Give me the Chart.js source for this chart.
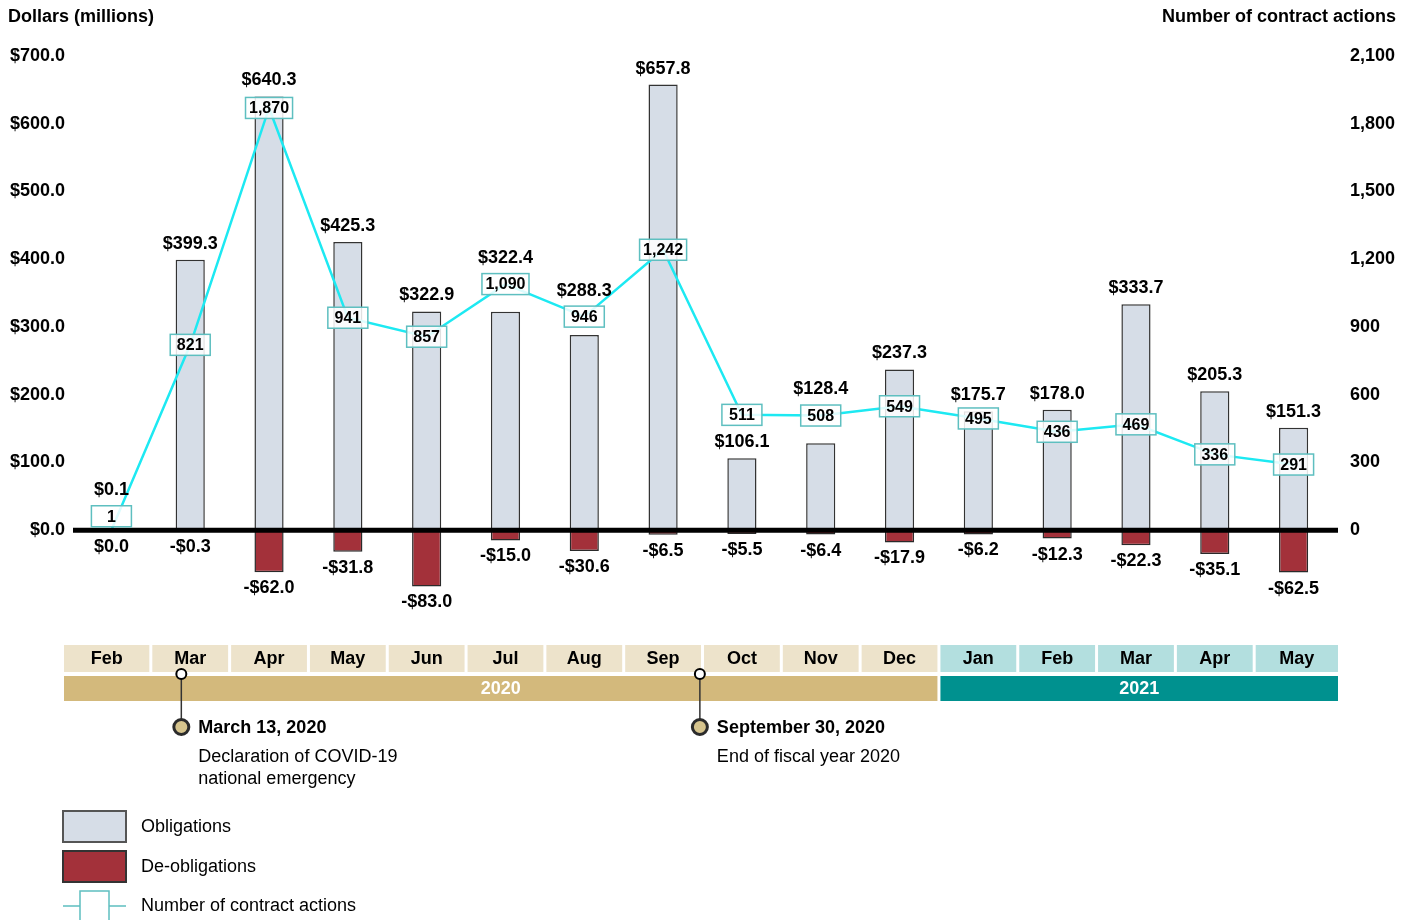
<!DOCTYPE html>
<html>
<head>
<meta charset="utf-8">
<script src="https://cdn.jsdelivr.net/npm/chart.js@4/dist/chart.umd.min.js"></script>
<style>
  html, body { margin: 0; padding: 0; background: #fff; }
  #wrap { width: 1411px; height: 920px; position: relative; }
</style>
</head>
<body>
<div id="wrap"><canvas id="myChart"></canvas></div>
<script>
// months from Feb 2020 to May 2021
const categories = ['Feb', 'Mar', 'Apr', 'May', 'Jun', 'Jul', 'Aug', 'Sep', 'Oct', 'Nov', 'Dec', 'Jan', 'Feb', 'Mar', 'Apr', 'May'];
const yearLabels = ['2020', '2021'];
const yearMonthCounts = [11, 5];
const obligations = [0.1, 399.3, 640.3, 425.3, 322.9, 322.4, 288.3, 657.8, 106.1, 128.4, 237.3, 175.7, 178.0, 333.7, 205.3, 151.3];
const deobligations = [0.0, -0.3, -62.0, -31.8, -83.0, -15.0, -30.6, -6.5, -5.5, -6.4, -17.9, -6.2, -12.3, -22.3, -35.1, -62.5];
const contractActions = [1, 821, 1870, 941, 857, 1090, 946, 1242, 511, 508, 549, 495, 436, 469, 336, 291];
const dollarTicks = [0, 100, 200, 300, 400, 500, 600, 700];
const actionTicks = [0, 300, 600, 900, 1200, 1500, 1800, 2100];
const events = [
    { month: 1, day: 13, days: 31, title: 'March 13, 2020', text: ['Declaration of COVID-19', 'national emergency'] },
    { month: 7, day: 30, days: 30, title: 'September 30, 2020', text: ['End of fiscal year 2020'] }
];

const FONT = "'Liberation Sans', Arial, Helvetica, sans-serif";
Chart.defaults.font.family = FONT;
Chart.defaults.color = '#000';

const fmtMoney = v => (v < 0 ? '-$' : '$') + Math.abs(v).toFixed(1);
const fmtCount = v => v.toLocaleString('en-US');

const extras = {
    id: 'extras',
    afterDatasetsDraw(chart) {
        const { ctx, chartArea, scales } = chart;
        const x = scales.x, y = scales.y, y1 = scales.y1;
        const zeroY = y.getPixelForValue(0);
        ctx.save();
        // zero line
        ctx.fillStyle = '#000';
        ctx.fillRect(chartArea.left + 1, zeroY - 2.5, chartArea.right - chartArea.left + 4, 5);

        // boxes on the line
        ctx.font = 'bold 16px ' + FONT;
        ctx.textAlign = 'center';
        ctx.textBaseline = 'middle';
        const boxY = contractActions.map(v => Math.min(y1.getPixelForValue(v), zeroY - 14));
        contractActions.forEach((v, i) => {
            const t = fmtCount(v);
            const cx = x.getPixelForValue(i);
            const w = Math.max(40, ctx.measureText(t).width + 7);
            const h = 21;
            ctx.fillStyle = 'rgba(255,255,255,0.85)';
            ctx.fillRect(cx - w / 2, boxY[i] - h / 2, w, h);
            ctx.strokeStyle = '#5EBFC0';
            ctx.lineWidth = 1.5;
            ctx.strokeRect(cx - w / 2, boxY[i] - h / 2, w, h);
            ctx.fillStyle = '#000';
            ctx.fillText(t, cx, boxY[i] + 1);
        });

        // value labels
        ctx.font = 'bold 18px ' + FONT;
        obligations.forEach((v, i) => {
            const cx = x.getPixelForValue(i);
            const top = y.getPixelForValue(v);
            const d = top - boxY[i];
            const ly = (d > 0 && d < 35) ? boxY[i] - 26 : top - 16;
            ctx.fillText(fmtMoney(v), cx, ly);
        });
        deobligations.forEach((v, i) => {
            const cx = x.getPixelForValue(i);
            const bot = Math.max(y.getPixelForValue(v), zeroY + 1);
            ctx.fillText(fmtMoney(v), cx, bot + 16);
        });
        ctx.restore();
    },
    afterDraw(chart) {
        const { ctx, chartArea, scales } = chart;
        const x = scales.x;
        ctx.save();
        ctx.textBaseline = 'middle';

        // axis titles
        ctx.font = 'bold 18px ' + FONT;
        ctx.fillStyle = '#000';
        ctx.textAlign = 'left';
        ctx.fillText('Dollars (millions)', 8, 17);
        ctx.textAlign = 'right';
        ctx.fillText('Number of contract actions', 1396, 17);

        // timeline months
        const step = x.getPixelForValue(1) - x.getPixelForValue(0);
        const cellL = [], cellR = [];
        categories.forEach((m, i) => {
            const c = x.getPixelForValue(i);
            let l = c - step / 2 + 1.5, r = c + step / 2 - 1.5;
            if (i === 0) l = chartArea.left - 8;
            if (i === categories.length - 1) r = chartArea.right + 5;
            cellL.push(l); cellR.push(r);
        });
        let idx = 0;
        const monthCols = ['#EDE3CB', '#B3DFDF'];
        const yearCols = ['#D3B97C', '#00918F'];
        yearLabels.forEach((yl, k) => {
            const first = idx, last = idx + yearMonthCounts[k] - 1;
            for (let i = first; i <= last; i++) {
                ctx.fillStyle = monthCols[k];
                ctx.fillRect(cellL[i], 645, cellR[i] - cellL[i], 27);
                ctx.fillStyle = '#000';
                ctx.textAlign = 'center';
                ctx.font = 'bold 18px ' + FONT;
                ctx.fillText(categories[i], (cellL[i] + cellR[i]) / 2, 659);
            }
            ctx.fillStyle = yearCols[k];
            ctx.fillRect(cellL[first], 676, cellR[last] - cellL[first], 25);
            ctx.fillStyle = '#fff';
            ctx.fillText(yl, (cellL[first] + cellR[last]) / 2, 689);
            idx = last + 1;
        });

        // event markers
        events.forEach(ev => {
            const ex = x.getPixelForValue(ev.month + (ev.day - 1) / ev.days - 0.5);
            ctx.strokeStyle = '#333';
            ctx.lineWidth = 1.5;
            ctx.beginPath();
            ctx.moveTo(ex, 674);
            ctx.lineTo(ex, 727);
            ctx.stroke();
            ctx.beginPath();
            ctx.arc(ex, 674, 5, 0, Math.PI * 2);
            ctx.fillStyle = '#fff';
            ctx.fill();
            ctx.lineWidth = 2;
            ctx.strokeStyle = '#000';
            ctx.stroke();
            ctx.beginPath();
            ctx.arc(ex, 727, 7.5, 0, Math.PI * 2);
            ctx.fillStyle = '#D6C48D';
            ctx.fill();
            ctx.lineWidth = 3;
            ctx.strokeStyle = '#2b2b2b';
            ctx.stroke();
            ctx.fillStyle = '#000';
            ctx.textAlign = 'left';
            ctx.font = 'bold 18px ' + FONT;
            ctx.fillText(ev.title, ex + 17, 728);
            ctx.font = '18px ' + FONT;
            ev.text.forEach((t, j) => ctx.fillText(t, ex + 17, 757 + j * 22));
        });

        // legend
        ctx.textAlign = 'left';
        ctx.font = '18px ' + FONT;
        ctx.lineWidth = 2;
        ctx.fillStyle = '#D6DDE7';
        ctx.fillRect(63, 811, 63, 31);
        ctx.strokeStyle = '#555';
        ctx.strokeRect(63, 811, 63, 31);
        ctx.fillStyle = '#A3313A';
        ctx.fillRect(63, 851, 63, 31);
        ctx.strokeStyle = '#333';
        ctx.strokeRect(63, 851, 63, 31);
        ctx.strokeStyle = '#5EBFC0';
        ctx.lineWidth = 1.5;
        ctx.beginPath();
        ctx.moveTo(63, 906); ctx.lineTo(80, 906);
        ctx.moveTo(109, 906); ctx.lineTo(126, 906);
        ctx.stroke();
        ctx.strokeRect(80, 891, 29, 40);
        ctx.fillStyle = '#000';
        ctx.fillText('Obligations', 141, 827);
        ctx.fillText('De-obligations', 141, 867);
        ctx.fillText('Number of contract actions', 141, 906);
        ctx.restore();
    }
};

const ctx = document.getElementById('myChart');
const myChart = new Chart(ctx, {
    type: 'bar',
    data: {
        labels: categories,
        datasets: [{
            type: 'line',
            label: 'Number of contract actions',
            data: contractActions,
            yAxisID: 'y1',
            borderColor: '#1DE9F2',
            borderWidth: 2.5,
            pointRadius: 0,
            tension: 0,
            order: 0
        }, {
            label: 'Obligations',
            data: obligations,
            yAxisID: 'y',
            backgroundColor: '#D6DDE7',
            borderColor: '#333',
            borderWidth: 1.5,
            grouped: false,
            categoryPercentage: 1,
            barPercentage: 0.37,
            order: 1
        }, {
            label: 'De-obligations',
            data: deobligations,
            yAxisID: 'y',
            backgroundColor: '#A3313A',
            borderColor: '#2a2a2a',
            borderWidth: 1.5,
            grouped: false,
            categoryPercentage: 1,
            barPercentage: 0.37,
            order: 1
        }]
    },
    options: {
        responsive: true,
        maintainAspectRatio: false,
        animation: false,
        layout: { padding: { top: 56, bottom: 322, left: 8, right: 5 } },
        plugins: {
            legend: { display: false },
            tooltip: { enabled: false }
        },
        scales: {
            x: {
                display: false,
                offset: true
            },
            y: {
                position: 'left',
                min: -100,
                max: 700,
                afterBuildTicks: axis => { axis.ticks = dollarTicks.map(v => ({ value: v })); },
                afterFit: axis => { axis.width = 64; },
                grid: { display: false, drawTicks: false },
                border: { display: false },
                ticks: {
                    padding: 7,
                    font: { size: 18, weight: 'bold' },
                    color: '#000',
                    callback: v => fmtMoney(v)
                }
            },
            y1: {
                position: 'right',
                min: -300,
                max: 2100,
                afterBuildTicks: axis => { axis.ticks = actionTicks.map(v => ({ value: v })); },
                afterFit: axis => { axis.width = 73; },
                grid: { display: false, drawTicks: false },
                border: { display: false },
                ticks: {
                    padding: 17,
                    font: { size: 18, weight: 'bold' },
                    color: '#000',
                    callback: v => fmtCount(v)
                }
            }
        }
    },
    plugins: [extras]
});
</script>
</body>
</html>
